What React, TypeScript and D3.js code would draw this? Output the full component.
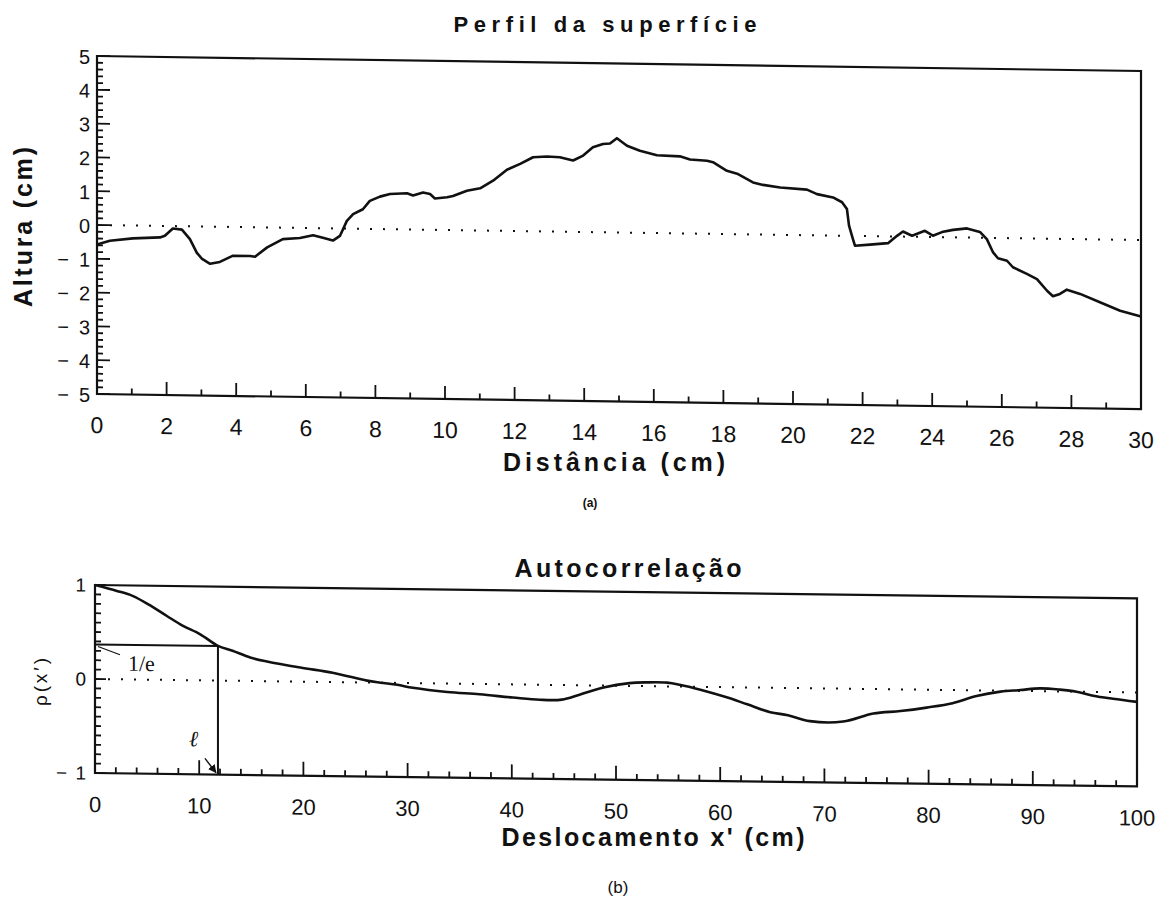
import React, { useEffect, useRef } from 'react';
import * as d3 from 'd3';

// ---- Data: surface profile (a) ----
const profileX = [0, 0.37, 1.03, 1.81, 1.95, 2.18, 2.44, 2.67, 2.87, 3.02, 3.25, 3.53, 3.91, 4.4, 4.54, 4.89, 5.34, 5.83, 6.21, 6.49, 6.78, 6.98, 7.18, 7.36, 7.64, 7.84, 8.13, 8.42, 8.91, 9.08, 9.37, 9.57, 9.71, 10.06, 10.23, 10.63, 11.01, 11.38, 11.78, 12.16, 12.53, 12.93, 13.3, 13.68, 13.97, 14.25, 14.54, 14.74, 14.94, 15.23, 15.6, 16.09, 16.75, 17.04, 17.53, 17.7, 18.1, 18.42, 18.85, 19.14, 19.63, 20.4, 20.69, 21.15, 21.41, 21.55, 21.61, 21.72, 21.78, 22.21, 22.73, 22.99, 23.16, 23.42, 23.79, 24.02, 24.28, 24.6, 25.0, 25.37, 25.57, 25.75, 25.89, 26.15, 26.32, 26.72, 27.01, 27.3, 27.47, 27.67, 27.87, 28.25, 28.82, 29.4, 30.0];
const profileY = [-0.58, -0.46, -0.38, -0.34, -0.29, -0.07, -0.1, -0.38, -0.78, -0.96, -1.1, -1.04, -0.85, -0.85, -0.87, -0.59, -0.34, -0.3, -0.21, -0.28, -0.36, -0.22, 0.23, 0.43, 0.58, 0.83, 0.96, 1.04, 1.07, 1.01, 1.1, 1.06, 0.93, 0.97, 1.01, 1.17, 1.25, 1.48, 1.81, 1.99, 2.19, 2.22, 2.2, 2.11, 2.26, 2.51, 2.61, 2.63, 2.79, 2.57, 2.43, 2.3, 2.28, 2.19, 2.16, 2.12, 1.87, 1.78, 1.54, 1.47, 1.4, 1.35, 1.22, 1.13, 0.99, 0.79, 0.3, -0.09, -0.29, -0.25, -0.2, 0.02, 0.15, 0.03, 0.18, 0.04, 0.15, 0.22, 0.27, 0.17, -0.04, -0.43, -0.6, -0.67, -0.86, -1.05, -1.2, -1.54, -1.7, -1.63, -1.5, -1.62, -1.86, -2.1, -2.26];
const profileXTicks = [0, 2, 4, 6, 8, 10, 12, 14, 16, 18, 20, 22, 24, 26, 28, 30];
const profileYTicks = [-5, -4, -3, -2, -1, 0, 1, 2, 3, 4, 5];

// ---- Data: autocorrelation (b) ----
const acfX = [0, 2.1, 3.6, 5.3, 6.9, 8.4, 10.1, 11.8, 13.2, 14.9, 16.5, 19.7, 22.8, 26.1, 27.4, 29.0, 30.5, 33.8, 36.9, 40.1, 42.7, 44.8, 46.5, 48.8, 51.3, 53.0, 54.9, 56.1, 58.1, 60.7, 62.6, 64.8, 66.5, 68.6, 71.8, 74.7, 77.3, 79.8, 82.3, 84.6, 86.9, 88.8, 90.7, 92.6, 94.2, 95.8, 97.7, 100];
const acfY = [1.0, 0.94, 0.89, 0.79, 0.68, 0.58, 0.49, 0.37, 0.32, 0.25, 0.21, 0.15, 0.1, 0.02, 0.0, -0.02, -0.05, -0.09, -0.11, -0.14, -0.16, -0.155, -0.1, -0.02, 0.03, 0.04, 0.04, 0.02, -0.03, -0.11, -0.18, -0.26, -0.29, -0.35, -0.35, -0.26, -0.23, -0.19, -0.14, -0.06, -0.01, 0.01, 0.03, 0.02, 0.0, -0.04, -0.07, -0.1];
const acfXTicks = [0, 10, 20, 30, 40, 50, 60, 70, 80, 90, 100];
const acfYTicks = [-1, 0, 1];
const corrLength = 11.8;
const invE = 1 / Math.E;

const SANS = 'Liberation Sans, Arial, sans-serif';
const SERIF = 'Liberation Serif, Times New Roman, serif';
const INK = '#111';

export default function App() {
  const ref = useRef<SVGSVGElement | null>(null);

  useEffect(() => {
    const svg = d3.select(ref.current);
    svg.selectAll('*').remove();

    svg.append('defs').append('marker')
      .attr('id', 'arrowhead').attr('viewBox', '0 0 10 10')
      .attr('refX', 9).attr('refY', 5).attr('markerWidth', 6).attr('markerHeight', 6)
      .attr('orient', 'auto')
      .append('path').attr('d', 'M0,0 L10,5 L0,10 z').attr('fill', INK);

    // ================= Panel (a) =================
    const W1 = 1044, H1 = 338;
    const x1 = d3.scaleLinear().domain([0, 30]).range([0, W1]);
    const y1 = d3.scaleLinear().domain([-5, 5]).range([H1, 0]);
    const g1 = svg.append('g').attr('transform', 'translate(97,56) skewY(0.825)');

    g1.append('line').attr('x1', 0).attr('x2', W1).attr('y1', y1(0)).attr('y2', y1(0))
      .attr('stroke', INK).attr('stroke-width', 2).attr('stroke-dasharray', '2 11');

    g1.append('path')
      .attr('d', d3.line<number>().x((d, i) => x1(profileX[i])).y((d) => y1(d)).curve(d3.curveLinear)(profileY) || '')
      .attr('fill', 'none').attr('stroke', INK).attr('stroke-width', 2.6).attr('stroke-linejoin', 'round');

    g1.append('rect').attr('x', 0).attr('y', 0).attr('width', W1).attr('height', H1)
      .attr('fill', 'none').attr('stroke', INK).attr('stroke-width', 2.2);

    // y ticks
    const y1Minor = d3.range(-50, 51, 2).map((v) => v / 10);
    g1.selectAll('.y1m').data(y1Minor).enter().append('line')
      .attr('x1', 0).attr('x2', (d) => (Number.isInteger(d) ? 13 : 6))
      .attr('y1', (d) => y1(d)).attr('y2', (d) => y1(d))
      .attr('stroke', INK).attr('stroke-width', 1.8);
    g1.selectAll('.y1l').data(profileYTicks).enter().append('text')
      .attr('x', -7).attr('y', (d) => y1(d)).attr('dy', '0.4em')
      .attr('text-anchor', 'end').attr('font-family', SANS).attr('font-size', 20).attr('fill', INK)
      .text((d) => String(Math.abs(d)));
    g1.selectAll('.y1n').data(profileYTicks.filter((d) => d < 0)).enter().append('text')
      .attr('x', -28).attr('y', (d) => y1(d)).attr('dy', '0.4em')
      .attr('text-anchor', 'end').attr('font-family', SANS).attr('font-size', 20).attr('fill', INK)
      .text('\u2212');

    // x ticks
    const x1Minor = d3.range(0, 31, 1);
    g1.selectAll('.x1m').data(x1Minor).enter().append('line')
      .attr('x1', (d) => x1(d)).attr('x2', (d) => x1(d))
      .attr('y1', H1).attr('y2', (d) => H1 - (d % 2 === 0 ? 13 : 6))
      .attr('stroke', INK).attr('stroke-width', 1.8);
    g1.selectAll('.x1l').data(profileXTicks).enter().append('text')
      .attr('x', (d) => x1(d)).attr('y', H1 + 39)
      .attr('text-anchor', 'middle').attr('font-family', SANS).attr('font-size', 23).attr('fill', INK)
      .text((d) => String(d));

    // ================= Panel (b) =================
    const W2 = 1042, H2 = 188;
    const x2 = d3.scaleLinear().domain([0, 100]).range([0, W2]);
    const y2 = d3.scaleLinear().domain([-1, 1]).range([H2, 0]);
    const g2 = svg.append('g').attr('transform', 'translate(95,585) skewY(0.74)');

    g2.append('line').attr('x1', 0).attr('x2', W2).attr('y1', y2(0)).attr('y2', y2(0))
      .attr('stroke', INK).attr('stroke-width', 2).attr('stroke-dasharray', '2 11');

    g2.append('path')
      .attr('d', d3.line<number>().x((d, i) => x2(acfX[i])).y((d) => y2(d)).curve(d3.curveCatmullRom)(acfY) || '')
      .attr('fill', 'none').attr('stroke', INK).attr('stroke-width', 2.6);

    g2.append('rect').attr('x', 0).attr('y', 0).attr('width', W2).attr('height', H2)
      .attr('fill', 'none').attr('stroke', INK).attr('stroke-width', 2.2);

    // 1/e and correlation length construction
    g2.append('line').attr('x1', x2(0)).attr('x2', x2(corrLength)).attr('y1', y2(invE)).attr('y2', y2(invE))
      .attr('stroke', INK).attr('stroke-width', 2);
    g2.append('line').attr('x1', x2(corrLength)).attr('x2', x2(corrLength)).attr('y1', y2(invE)).attr('y2', y2(-1))
      .attr('stroke', INK).attr('stroke-width', 2);
    g2.append('line').attr('x1', x2(0) + 3).attr('x2', x2(0) + 25).attr('y1', y2(invE) + 2).attr('y2', y2(invE) + 10)
      .attr('stroke', INK).attr('stroke-width', 1.2);
    g2.append('text').attr('x', x2(0) + 33).attr('y', y2(invE) + 26)
      .attr('font-family', SERIF).attr('font-size', 22).attr('fill', INK).text('1/e');
    g2.append('text').attr('x', x2(corrLength) - 29).attr('y', y2(-1) - 28)
      .attr('font-family', SERIF).attr('font-style', 'italic').attr('font-size', 22).attr('fill', INK).text('\u2113');
    g2.append('line').attr('x1', x2(corrLength) - 13).attr('x2', x2(corrLength) - 2)
      .attr('y1', y2(-1) - 16).attr('y2', y2(-1) - 2)
      .attr('stroke', INK).attr('stroke-width', 1.4).attr('marker-end', 'url(#arrowhead)');

    // y ticks
    const y2Minor = d3.range(-10, 11, 1).map((v) => v / 10);
    g2.selectAll('.y2m').data(y2Minor).enter().append('line')
      .attr('x1', 0).attr('x2', (d) => (Number.isInteger(d) ? 11 : 6))
      .attr('y1', (d) => y2(d)).attr('y2', (d) => y2(d))
      .attr('stroke', INK).attr('stroke-width', 1.8);
    g2.selectAll('.y2l').data(acfYTicks).enter().append('text')
      .attr('x', -9).attr('y', (d) => y2(d)).attr('dy', '0.36em')
      .attr('text-anchor', 'end').attr('font-family', SANS).attr('font-size', 19).attr('fill', INK)
      .text((d) => String(Math.abs(d)));
    g2.selectAll('.y2n').data(acfYTicks.filter((d) => d < 0)).enter().append('text')
      .attr('x', -28).attr('y', (d) => y2(d)).attr('dy', '0.36em')
      .attr('text-anchor', 'end').attr('font-family', SANS).attr('font-size', 19).attr('fill', INK)
      .text('\u2212');

    // x ticks
    const x2Minor = d3.range(0, 101, 2);
    g2.selectAll('.x2m').data(x2Minor).enter().append('line')
      .attr('x1', (d) => x2(d)).attr('x2', (d) => x2(d))
      .attr('y1', H2).attr('y2', (d) => H2 - (d % 10 === 0 ? 14 : 6))
      .attr('stroke', INK).attr('stroke-width', 1.8);
    g2.selectAll('.x2l').data(acfXTicks).enter().append('text')
      .attr('x', (d) => x2(d)).attr('y', H2 + 39)
      .attr('text-anchor', 'middle').attr('font-family', SANS).attr('font-size', 22).attr('fill', INK)
      .text((d) => String(d));

    // ================= Titles & labels =================
    const addText = (txt: string, x: number, y: number, size: number, len: number | null, weight = 'bold', family = SANS) => {
      const t = svg.append('text').attr('x', x).attr('y', y).attr('text-anchor', 'middle')
        .attr('font-family', family).attr('font-weight', weight).attr('font-size', size).attr('fill', INK).text(txt);
      if (len) t.attr('textLength', len).attr('lengthAdjust', 'spacing');
      return t;
    };
    addText('Perfil da superfície', 605, 32, 22, 303);
    addText('Distância (cm)', 614, 471, 25, 222);
    addText('(a)', 590, 507, 12, null);
    addText('Autocorrelação', 628, 577, 25, 227);
    addText("Deslocamento x' (cm)", 653, 846, 25, 303);
    addText('(b)', 618, 893, 17, null, 'normal');

    svg.append('text').attr('transform', 'translate(32,227) rotate(-90)').attr('text-anchor', 'middle')
      .attr('font-family', SANS).attr('font-weight', 'bold').attr('font-size', 25).attr('fill', INK)
      .attr('textLength', 160).attr('lengthAdjust', 'spacing').text('Altura (cm)');
    svg.append('text').attr('transform', 'translate(47,682) rotate(-90)').attr('text-anchor', 'middle')
      .attr('font-family', SANS).attr('font-size', 19).attr('fill', INK)
      .attr('textLength', 48).attr('lengthAdjust', 'spacing').text('\u03C1(x\u2032)');
  }, []);

  return (
    <svg ref={ref} width={1163} height={899}
      style={{ position: 'absolute', left: 0, top: 0, background: '#fff' }} />
  );
}
